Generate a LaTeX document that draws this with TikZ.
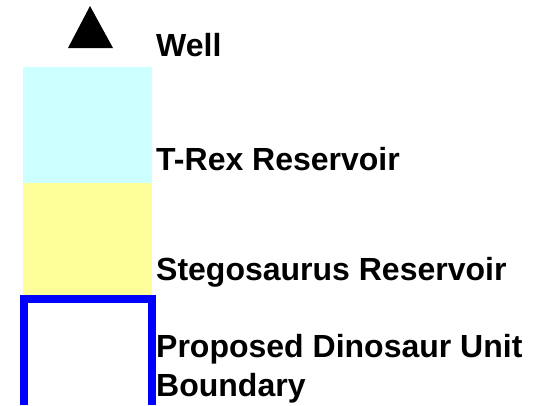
\documentclass[tikz,border=0pt]{standalone}
\usepackage{fontspec}
\setmainfont{Liberation Sans}
\usepackage{tikz}
\definecolor{trexcyan}{RGB}{204,255,255}
\definecolor{stegoyellow}{RGB}{255,255,153}
\definecolor{unitblue}{RGB}{0,0,255}
\tikzset{
  legtext/.style={anchor=base west, inner sep=0pt, font=\bfseries\fontsize{32}{39}\selectfont}
}
\begin{document}
\begin{tikzpicture}[x=1pt,y=-1pt]
  \useasboundingbox (0,0) rectangle (533,405);
  \fill[black] (68,48) -- (90,6) -- (113,48) -- cycle;
  \fill[trexcyan] (23,67) rectangle (152,183);
  \fill[stegoyellow] (23,183) rectangle (152,295);
  \draw[unitblue,line width=8pt] (24,405) -- (24,299) -- (152,299) -- (152,405);
  \node[legtext] (well) at (156,56) {Well};
  \node[legtext] (trex) at (156,170) {T-Rex Reservoir};
  \node[legtext] (stego) at (156,280) {Stegosaurus Reservoir};
  \node[legtext] (unit) at (156,357) {Proposed Dinosaur Unit};
  \node[legtext] (unitb) at (156,396) {Boundary};
\end{tikzpicture}
\end{document}
